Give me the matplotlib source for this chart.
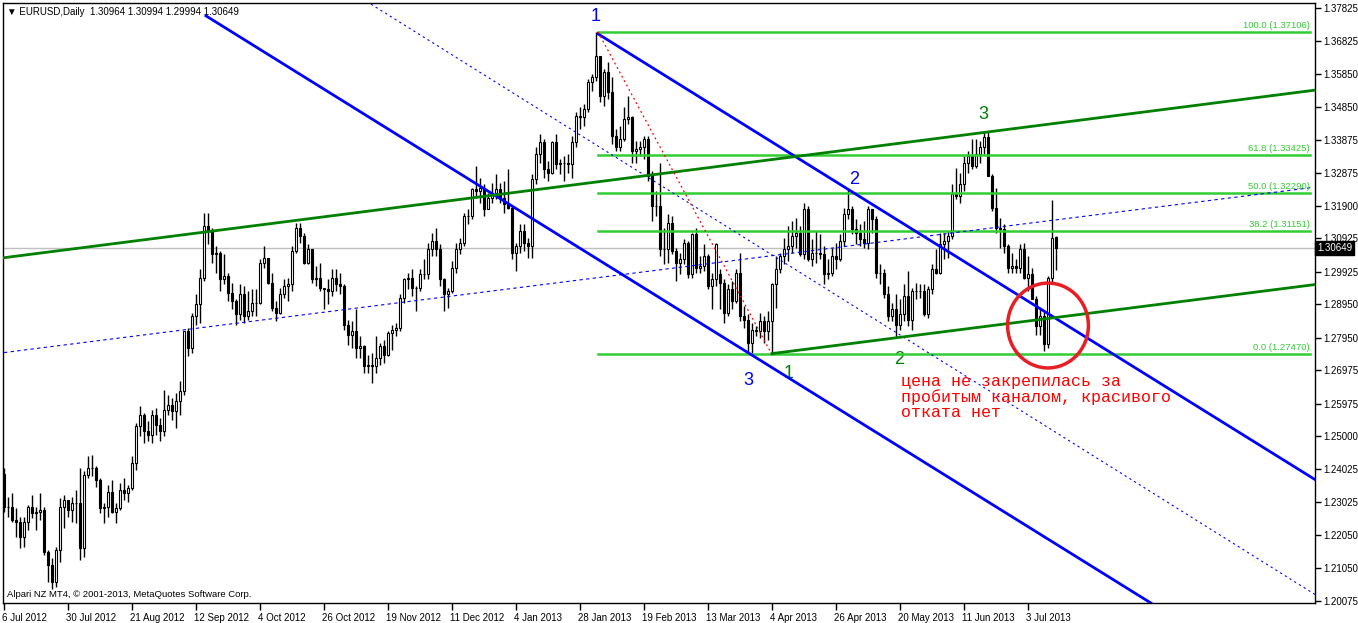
import numpy as np
import matplotlib.pyplot as plt
from matplotlib.patches import Ellipse
import matplotlib.transforms as mtransforms

# EURUSD daily bars, 6 Jul 2012 .. 12 Jul 2013 (bar index = trading day)
opens = [1.2386, 1.2289, 1.2290, 1.2250, 1.2245, 1.2200, 1.2245, 1.2290, 1.2270, 1.2275,
         1.2280, 1.2155, 1.2115, 1.2063, 1.2160, 1.2290, 1.2310, 1.2280, 1.2300, 1.2300,
         1.2165, 1.2385, 1.2405, 1.2405, 1.2370, 1.2285, 1.2290, 1.2335, 1.2275, 1.2285,
         1.2340, 1.2330, 1.2345, 1.2420, 1.2530, 1.2565, 1.2515, 1.2505, 1.2565, 1.2535,
         1.2515, 1.2580, 1.2595, 1.2575, 1.2605, 1.2635, 1.2815, 1.2765, 1.2860, 1.2895,
         1.2975, 1.3130, 1.3115, 1.3045, 1.3050, 1.2970, 1.2980, 1.2930, 1.2905, 1.2865,
         1.2925, 1.2860, 1.2875, 1.2900, 1.2900, 1.3020, 1.3035, 1.2960, 1.2885, 1.2870,
         1.2925, 1.2950, 1.2955, 1.3055, 1.3125, 1.3100, 1.3020, 1.3060, 1.2970, 1.2975,
         1.2945, 1.2940, 1.2935, 1.2975, 1.2955, 1.2950, 1.2835, 1.2805, 1.2815, 1.2765,
         1.2770, 1.2710, 1.2715, 1.2710, 1.2735, 1.2770, 1.2745, 1.2810, 1.2820, 1.2825,
         1.2915, 1.2970, 1.2975, 1.2945, 1.2945, 1.2985, 1.2985, 1.3060, 1.3085, 1.3060,
         1.2970, 1.2925, 1.2935, 1.3005, 1.3060, 1.3080, 1.3160, 1.3160, 1.3240, 1.3235,
         1.3245, 1.3180, 1.3215, 1.3230, 1.3240, 1.3215, 1.3195, 1.3185, 1.3050, 1.3070,
         1.3115, 1.3080, 1.3070, 1.3270, 1.3345, 1.3380, 1.3300, 1.3290, 1.3380, 1.3315,
         1.3320, 1.3320, 1.3315, 1.3380, 1.3460, 1.3455, 1.3480, 1.3560, 1.3575, 1.3640,
         1.3520, 1.3590, 1.3530, 1.3400, 1.3365, 1.3390, 1.3450, 1.3455, 1.3355, 1.3360,
         1.3365, 1.3390, 1.3280, 1.3190, 1.3190, 1.3060, 1.3060, 1.3140, 1.3055, 1.3020,
         1.3030, 1.3080, 1.2985, 1.3105, 1.3005, 1.3010, 1.3040, 1.2950, 1.2970, 1.2985,
         1.2960, 1.2870, 1.2940, 1.2905, 1.2990, 1.2860, 1.2850, 1.2780, 1.2820, 1.2815,
         1.2845, 1.2815, 1.2845, 1.2955, 1.3000, 1.3040, 1.3060, 1.3070, 1.3100, 1.3110,
         1.3045, 1.3180, 1.3030, 1.3050, 1.3050, 1.3045, 1.2985, 1.2990, 1.3040, 1.3030,
         1.3085, 1.3165, 1.3180, 1.3120, 1.3110, 1.3090, 1.3080, 1.3180, 1.3150, 1.2990,
         1.2990, 1.2925, 1.2860, 1.2880, 1.2835, 1.2865, 1.2920, 1.2850, 1.2935, 1.2935,
         1.2935, 1.2865, 1.2940, 1.3000, 1.2990, 1.3075, 1.3085, 1.3100, 1.3225, 1.3220,
         1.3255, 1.3320, 1.3340, 1.3310, 1.3345, 1.3365, 1.3395, 1.3280, 1.3185, 1.3125,
         1.3120, 1.3070, 1.3005, 1.3010, 1.3005, 1.3060, 1.2975, 1.2985, 1.2910, 1.2830,
         1.2860, 1.2778, 1.2973, 1.30964]
highs = [1.2405, 1.2320, 1.2330, 1.2285, 1.2260, 1.2260, 1.2295, 1.2325, 1.2290, 1.2330,
         1.2290, 1.2160, 1.2135, 1.2170, 1.2315, 1.2325, 1.2310, 1.2320, 1.2340, 1.2405,
         1.2395, 1.2440, 1.2445, 1.2410, 1.2375, 1.2300, 1.2355, 1.2370, 1.2300, 1.2360,
         1.2375, 1.2355, 1.2440, 1.2540, 1.2590, 1.2570, 1.2545, 1.2580, 1.2585, 1.2555,
         1.2640, 1.2625, 1.2615, 1.2630, 1.2665, 1.2815, 1.2825, 1.2870, 1.2925, 1.3000,
         1.3170, 1.3170, 1.3125, 1.3070, 1.3055, 1.3045, 1.2990, 1.2960, 1.2910, 1.2955,
         1.2950, 1.2935, 1.2940, 1.2940, 1.3030, 1.3070, 1.3035, 1.2990, 1.2905, 1.2945,
         1.2970, 1.2975, 1.3070, 1.3140, 1.3140, 1.3110, 1.3075, 1.3060, 1.3010, 1.3020,
         1.2945, 1.2970, 1.3000, 1.3000, 1.2990, 1.2955, 1.2850, 1.2845, 1.2880, 1.2800,
         1.2775, 1.2745, 1.2750, 1.2800, 1.2780, 1.2790, 1.2815, 1.2835, 1.2840, 1.2925,
         1.2975, 1.2990, 1.3000, 1.2950, 1.3000, 1.3030, 1.3080, 1.3110, 1.3125, 1.3075,
         1.2975, 1.2945, 1.3025, 1.3080, 1.3095, 1.3170, 1.3180, 1.3245, 1.3310, 1.3275,
         1.3255, 1.3230, 1.3260, 1.3285, 1.3260, 1.3265, 1.3300, 1.3190, 1.3080, 1.3135,
         1.3135, 1.3095, 1.3285, 1.3365, 1.3405, 1.3390, 1.3325, 1.3385, 1.3405, 1.3330,
         1.3340, 1.3345, 1.3400, 1.3470, 1.3485, 1.3495, 1.3570, 1.3585, 1.3711, 1.3640,
         1.3600, 1.3620, 1.3575, 1.3420, 1.3430, 1.3485, 1.3520, 1.3460, 1.3385, 1.3385,
         1.3400, 1.3400, 1.3295, 1.3235, 1.3320, 1.3125, 1.3165, 1.3160, 1.3065, 1.3050,
         1.3090, 1.3085, 1.3110, 1.3125, 1.3040, 1.3075, 1.3045, 1.2990, 1.3080, 1.3000,
         1.2970, 1.2955, 1.2965, 1.3000, 1.3050, 1.2890, 1.2865, 1.2840, 1.2830, 1.2870,
         1.2860, 1.2875, 1.2960, 1.3040, 1.3050, 1.3095, 1.3130, 1.3145, 1.3155, 1.3130,
         1.3200, 1.3190, 1.3090, 1.3115, 1.3105, 1.3070, 1.3030, 1.3065, 1.3080, 1.3105,
         1.3185, 1.3245, 1.3190, 1.3150, 1.3135, 1.3145, 1.3190, 1.3175, 1.3160, 1.3015,
         1.3000, 1.2950, 1.2900, 1.2925, 1.2910, 1.2955, 1.2995, 1.2945, 1.2960, 1.2955,
         1.2955, 1.2950, 1.3015, 1.3060, 1.3110, 1.3110, 1.3115, 1.3255, 1.3305, 1.3290,
         1.3340, 1.3355, 1.3390, 1.3390, 1.3385, 1.3415, 1.3415, 1.3285, 1.3245, 1.3155,
         1.3135, 1.3075, 1.3050, 1.3030, 1.3075, 1.3080, 1.3040, 1.3005, 1.2920, 1.2880,
         1.2875, 1.2980, 1.3207, 1.30994]
lows = [1.2275, 1.2260, 1.2245, 1.2200, 1.2165, 1.2170, 1.2220, 1.2255, 1.2220, 1.2250,
        1.2145, 1.2065, 1.2042, 1.2050, 1.2125, 1.2225, 1.2260, 1.2245, 1.2240, 1.2130,
        1.2140, 1.2375, 1.2380, 1.2350, 1.2270, 1.2240, 1.2260, 1.2270, 1.2240, 1.2280,
        1.2310, 1.2305, 1.2340, 1.2400, 1.2500, 1.2480, 1.2485, 1.2480, 1.2505, 1.2485,
        1.2500, 1.2565, 1.2550, 1.2525, 1.2565, 1.2625, 1.2740, 1.2750, 1.2835, 1.2840,
        1.2965, 1.3075, 1.3020, 1.2990, 1.2935, 1.2955, 1.2905, 1.2880, 1.2835, 1.2850,
        1.2840, 1.2850, 1.2860, 1.2860, 1.2895, 1.3005, 1.2955, 1.2875, 1.2845, 1.2865,
        1.2915, 1.2905, 1.2935, 1.3050, 1.3080, 1.3015, 1.3015, 1.2960, 1.2950, 1.2935,
        1.2880, 1.2895, 1.2920, 1.2935, 1.2925, 1.2820, 1.2775, 1.2765, 1.2735, 1.2735,
        1.2690, 1.2690, 1.2660, 1.2690, 1.2715, 1.2720, 1.2740, 1.2760, 1.2800, 1.2815,
        1.2900, 1.2940, 1.2920, 1.2875, 1.2935, 1.2970, 1.2970, 1.3040, 1.3040, 1.2950,
        1.2875, 1.2885, 1.2930, 1.2990, 1.3045, 1.3070, 1.3135, 1.3150, 1.3215, 1.3200,
        1.3160, 1.3180, 1.3200, 1.3210, 1.3200, 1.3170, 1.3180, 1.3030, 1.2995, 1.3050,
        1.3055, 1.3035, 1.3035, 1.3255, 1.3320, 1.3275, 1.3265, 1.3285, 1.3300, 1.3285,
        1.3265, 1.3290, 1.3275, 1.3365, 1.3420, 1.3430, 1.3470, 1.3535, 1.3565, 1.3500,
        1.3490, 1.3510, 1.3375, 1.3355, 1.3355, 1.3385, 1.3435, 1.3320, 1.3320, 1.3340,
        1.3330, 1.3265, 1.3145, 1.3160, 1.3040, 1.3015, 1.3020, 1.3045, 1.2965, 1.2985,
        1.3015, 1.2975, 1.2975, 1.2990, 1.2990, 1.2995, 1.2940, 1.2880, 1.2950, 1.2880,
        1.2840, 1.2860, 1.2880, 1.2900, 1.2845, 1.2825, 1.2750, 1.2750, 1.2800, 1.2795,
        1.2780, 1.2790, 1.2745, 1.2885, 1.2990, 1.3015, 1.3025, 1.3050, 1.3065, 1.3040,
        1.3030, 1.3025, 1.3010, 1.3020, 1.3030, 1.2955, 1.2970, 1.2980, 1.3000, 1.3025,
        1.3070, 1.3150, 1.3105, 1.3075, 1.3070, 1.3065, 1.3060, 1.3110, 1.2975, 1.2955,
        1.2915, 1.2845, 1.2845, 1.2795, 1.2820, 1.2845, 1.2830, 1.2820, 1.2910, 1.2915,
        1.2860, 1.2855, 1.2925, 1.2985, 1.2985, 1.3030, 1.3035, 1.3090, 1.3210, 1.3200,
        1.3235, 1.3290, 1.3300, 1.3305, 1.3320, 1.3345, 1.3280, 1.3175, 1.3110, 1.3065,
        1.3050, 1.2990, 1.2990, 1.2990, 1.2990, 1.2970, 1.2935, 1.2910, 1.2805, 1.2805,
        1.2755, 1.2766, 1.2960, 1.29994]
closes = [1.2289, 1.2290, 1.2250, 1.2245, 1.2200, 1.2245, 1.2290, 1.2270, 1.2275, 1.2280,
          1.2155, 1.2115, 1.2063, 1.2160, 1.2290, 1.2310, 1.2280, 1.2300, 1.2300, 1.2165,
          1.2385, 1.2405, 1.2405, 1.2370, 1.2285, 1.2290, 1.2335, 1.2275, 1.2285, 1.2340,
          1.2330, 1.2345, 1.2420, 1.2530, 1.2565, 1.2515, 1.2505, 1.2565, 1.2535, 1.2515,
          1.2580, 1.2595, 1.2575, 1.2605, 1.2635, 1.2815, 1.2765, 1.2860, 1.2895, 1.2975,
          1.3130, 1.3115, 1.3045, 1.3050, 1.2970, 1.2980, 1.2930, 1.2905, 1.2865, 1.2925,
          1.2860, 1.2875, 1.2900, 1.2900, 1.3020, 1.3035, 1.2960, 1.2885, 1.2870, 1.2925,
          1.2950, 1.2955, 1.3055, 1.3125, 1.3100, 1.3020, 1.3060, 1.2970, 1.2975, 1.2945,
          1.2940, 1.2935, 1.2975, 1.2955, 1.2950, 1.2835, 1.2805, 1.2815, 1.2765, 1.2770,
          1.2710, 1.2715, 1.2710, 1.2735, 1.2770, 1.2745, 1.2810, 1.2820, 1.2825, 1.2915,
          1.2970, 1.2975, 1.2945, 1.2945, 1.2985, 1.2985, 1.3060, 1.3085, 1.3060, 1.2970,
          1.2925, 1.2935, 1.3005, 1.3060, 1.3080, 1.3160, 1.3160, 1.3240, 1.3235, 1.3245,
          1.3180, 1.3215, 1.3230, 1.3240, 1.3215, 1.3195, 1.3185, 1.3050, 1.3070, 1.3115,
          1.3080, 1.3070, 1.3270, 1.3345, 1.3380, 1.3300, 1.3290, 1.3380, 1.3315, 1.3320,
          1.3320, 1.3315, 1.3380, 1.3460, 1.3455, 1.3480, 1.3560, 1.3575, 1.3640, 1.3520,
          1.3590, 1.3530, 1.3400, 1.3365, 1.3390, 1.3450, 1.3455, 1.3355, 1.3360, 1.3365,
          1.3390, 1.3280, 1.3190, 1.3190, 1.3060, 1.3060, 1.3140, 1.3055, 1.3020, 1.3030,
          1.3080, 1.2985, 1.3105, 1.3005, 1.3010, 1.3040, 1.2950, 1.2970, 1.3075, 1.2960,
          1.2870, 1.2940, 1.2905, 1.2990, 1.2860, 1.2850, 1.2780, 1.2820, 1.2815, 1.2845,
          1.2815, 1.2845, 1.2955, 1.3000, 1.3040, 1.3060, 1.3070, 1.3100, 1.3110, 1.3045,
          1.3180, 1.3030, 1.3050, 1.3050, 1.3045, 1.2985, 1.2990, 1.3040, 1.3030, 1.3085,
          1.3165, 1.3180, 1.3120, 1.3110, 1.3090, 1.3080, 1.3180, 1.3150, 1.2990, 1.2990,
          1.2925, 1.2860, 1.2880, 1.2835, 1.2865, 1.2920, 1.2850, 1.2935, 1.2935, 1.2935,
          1.2865, 1.2940, 1.3000, 1.2990, 1.3075, 1.3085, 1.3100, 1.3225, 1.3220, 1.3255,
          1.3320, 1.3340, 1.3310, 1.3345, 1.3365, 1.3395, 1.3280, 1.3185, 1.3125, 1.3120,
          1.3070, 1.3005, 1.3010, 1.3005, 1.3060, 1.2975, 1.2985, 1.2910, 1.2830, 1.2860,
          1.2778, 1.2973, 1.3093, 1.30649]

date_labels = ['6 Jul 2012', '30 Jul 2012', '21 Aug 2012', '12 Sep 2012', '4 Oct 2012',
               '26 Oct 2012', '19 Nov 2012', '11 Dec 2012', '4 Jan 2013', '28 Jan 2013',
               '19 Feb 2013', '13 Mar 2013', '4 Apr 2013', '26 Apr 2013', '20 May 2013',
               '11 Jun 2013', '3 Jul 2013']
price_ticks = [1.37825, 1.36825, 1.35850, 1.34850, 1.33875, 1.32875, 1.31900, 1.30925,
               1.29925, 1.28950, 1.27950, 1.26975, 1.25975, 1.25000, 1.24025, 1.23025,
               1.22050, 1.21050, 1.20075]

fib_levels = ['0.0', '38.2', '50.0', '61.8', '100.0']
fib_prices = [1.27470, 1.31151, 1.32290, 1.33425, 1.37106]

# trendline anchors: (bar index, price)
blue_lower = [(50.5, 1.3759), (286.75, 1.2001)]
blue_upper = [(148.5, 1.3705), (328.0, 1.2369)]
blue_mid = [(91.75, 1.3794), (328.0, 1.2025)]
blue_rising = [(0.0, 1.2751), (327.0, 1.3245)]
green_upper = [(0.0, 1.3035), (328.0, 1.3537)]
green_lower = [(192.0, 1.2748), (328.0, 1.2955)]
red_fib_line = [(148.5, 1.3711), (192.0, 1.2745)]

W, H = 1358, 623
fig = plt.figure(figsize=(W / 100, H / 100), dpi=100)
ax = fig.add_axes([3 / W, 1 - 603 / H, 1312 / W, 600 / H])

x = np.arange(len(closes))
o = np.array(opens)
c = np.array(closes)

ax.axhline(closes[-1], color='#c0c0c0', lw=1, zorder=1)

ax.vlines(x, lows, highs, color='black', lw=1, zorder=2)
up = c >= o
ax.bar(x[up], (c - o)[up], bottom=o[up], width=0.62, color='white',
       edgecolor='black', linewidth=0.8, zorder=3)
ax.bar(x[~up], (o - c)[~up], bottom=c[~up], width=0.62, color='black',
       edgecolor='black', linewidth=0.8, zorder=3)

def tline(pts, **kw):
    ax.plot([pts[0][0], pts[1][0]], [pts[0][1], pts[1][1]], **kw)

tline(blue_lower, color='#0000ff', lw=2, zorder=5)
tline(blue_upper, color='#0000ff', lw=2, zorder=5)
tline(blue_mid, color='#0000ff', lw=0.8, ls=(0, (2, 3)), zorder=5)
tline(blue_rising, color='#0000ff', lw=0.8, ls=(0, (3, 3)), zorder=5)
tline(green_upper, color='#008000', lw=2, zorder=5)
tline(green_lower, color='#008000', lw=2, zorder=5)
tline(red_fib_line, color='#ff0000', lw=0.9, ls=(0, (1.5, 2.5)), zorder=5)

for lev, p in zip(fib_levels, fib_prices):
    ax.plot([148.5, 326.5], [p, p], color='#32cd32', lw=1.8, zorder=4)
    ax.text(326.5, p + 0.0006, f'{lev} ({p:.5f})', color='#32cd32', fontsize=6.8,
            ha='right', va='bottom', family='Liberation Sans', zorder=6)

ax.add_patch(Ellipse((261.0, 1.2832), 20.2, 0.0254, fill=False, edgecolor='#e81e25',
                     lw=2.5, zorder=6))

labels = [('1', 148.0, 1.3757, '#0000ff'), ('2', 212.5, 1.3269, '#0000ff'),
          ('3', 186.0, 1.2668, '#0000ff'), ('1', 196.2, 1.2688, '#008000'),
          ('2', 223.8, 1.2731, '#008000'), ('3', 244.8, 1.3464, '#008000')]
for t, xi, yi, col in labels:
    ax.text(xi, yi, t, color=col, fontsize=13, ha='center', va='center',
            family='Liberation Sans')

ax.text(224.2, 1.2688, 'цена не закрепилась за\nпробитым каналом, красивого\nотката нет',
        color='#ff0000', fontsize=12, family='Liberation Mono', ha='left', va='top',
        linespacing=1.02, zorder=6)

ax.text(0.003, 0.994, '\u25bc EURUSD,Daily  1.30964 1.30994 1.29994 1.30649',
        transform=ax.transAxes, fontsize=7, ha='left', va='top', family='Liberation Sans')
ax.text(0.003, 0.006, 'Alpari NZ MT4, \u00a9 2001-2013, MetaQuotes Software Corp.',
        transform=ax.transAxes, fontsize=6.8, ha='left', va='bottom', family='Liberation Sans')

ax.set_xlim(-0.25, 327.75)
ax.set_ylim(1.20013, 1.37975)

ax.set_xticks(np.arange(len(date_labels)) * 16)
ax.set_xticklabels(date_labels, fontsize=7, family='Liberation Sans', ha='left')
ax.tick_params(axis='x', direction='out', length=5, width=1, pad=2)
for lab in ax.get_xticklabels():
    lab.set_transform(lab.get_transform() + mtransforms.ScaledTranslation(-2 / 100, 0, fig.dpi_scale_trans))

ax.yaxis.tick_right()
ax.set_yticks(price_ticks)
ax.set_yticklabels([f'{v:.5f}' for v in price_ticks], fontsize=7, family='Liberation Sans')
ax.tick_params(axis='y', direction='out', length=4, width=1, pad=2)

ax.text(1.0015, closes[-1], f'{closes[-1]:.5f}', transform=ax.get_yaxis_transform(),
        color='white', fontsize=7, family='Liberation Sans', ha='left', va='center',
        bbox=dict(boxstyle='square,pad=0.2', fc='black', ec='black'), zorder=10)

for s in ax.spines.values():
    s.set_linewidth(1)

fig.savefig('out.png', dpi=100)
